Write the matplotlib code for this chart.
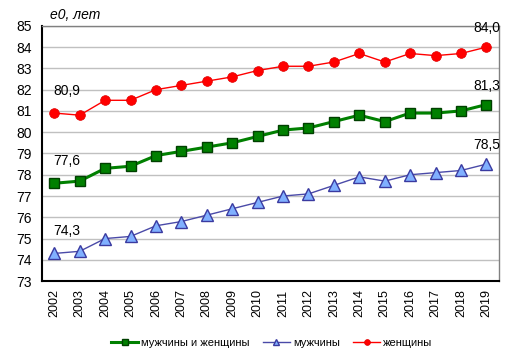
import matplotlib
matplotlib.use("Agg")
import matplotlib.pyplot as plt

years = list(range(2002, 2020))
total = [77.6, 77.7, 78.3, 78.4, 78.9, 79.1, 79.3, 79.5, 79.8, 80.1, 80.2, 80.5, 80.8, 80.5, 80.9, 80.9, 81.0, 81.3]
men = [74.3, 74.4, 75.0, 75.1, 75.6, 75.8, 76.1, 76.4, 76.7, 77.0, 77.1, 77.5, 77.9, 77.7, 78.0, 78.1, 78.2, 78.5]
women = [80.9, 80.8, 81.5, 81.5, 82.0, 82.2, 82.4, 82.6, 82.9, 83.1, 83.1, 83.3, 83.7, 83.3, 83.7, 83.6, 83.7, 84.0]
labels = ["мужчины и женщины", "мужчины", "женщины"]

plt.rcParams['font.family'] = ['Liberation Sans', 'DejaVu Sans']

fig = plt.figure(figsize=(5.13, 3.59), dpi=100)
ax = fig.add_axes([0.081, 0.217, 0.892, 0.711])
x = list(range(len(years)))

l1, = ax.plot(x, total, color='#008000', lw=2.2, marker='s', ms=7, mfc='#008000', mec='#004000', mew=1, label=labels[0], zorder=3)
l2, = ax.plot(x, men, color='#4a4aa8', lw=1, marker='^', ms=8, mfc='#80b0ff', mec='#3a3aa0', mew=1, label=labels[1], zorder=3)
l3, = ax.plot(x, women, color='#ff0000', lw=1, marker='o', ms=7, mfc='#ff0000', mec='#e00000', mew=0.5, label=labels[2], zorder=3)

ax.set_xlim(-0.5, len(years) - 0.5)
ax.set_ylim(73, 85)
ax.set_yticks(range(73, 86))
ax.set_xticks(x)
ax.set_xticklabels([str(y) for y in years], rotation=90, fontsize=9)
ax.tick_params(axis='y', labelsize=10, length=0, pad=7)
ax.tick_params(axis='x', length=0, pad=6)
ax.grid(axis='y', color='#c0c0c0', lw=1)
ax.set_axisbelow(True)
for s in ['left', 'bottom']:
    ax.spines[s].set_color('black')
    ax.spines[s].set_linewidth(1.5)
for s in ['top', 'right']:
    ax.spines[s].set_color('#808080')
    ax.spines[s].set_linewidth(1)

def fmt(v):
    return f"{v:.1f}".replace('.', ',')

for series in (total, men, women):
    ax.annotate(fmt(series[0]), (x[0], series[0]), xytext=(-1, 16), textcoords='offset points',
                ha='left', va='center', fontsize=10)
    ax.annotate(fmt(series[-1]), (x[-1], series[-1]), xytext=(0, 13.5), textcoords='offset points',
                ha='center', va='center', fontsize=10)

fig.text(0.097, 0.958, "e0, лет", fontsize=10, style='italic', ha='left', va='center')

fig.legend(handles=[l1, l2, l3], loc='center', bbox_to_anchor=(0.53, 0.045), ncol=3, frameon=False,
           fontsize=8, handlelength=2.4, columnspacing=1.2, handletextpad=0.3, markerscale=0.6)

fig.savefig("out.png", dpi=100)
